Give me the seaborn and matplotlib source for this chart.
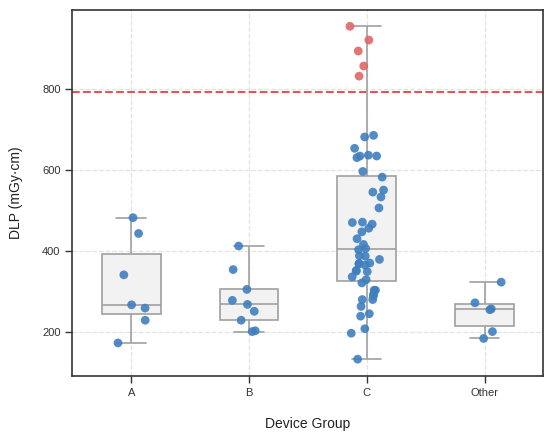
import numpy as np
import pandas as pd
import matplotlib
matplotlib.use("Agg")
import matplotlib.pyplot as plt
import seaborn as sns

# DLP values per device group
dlp_a = [483, 444, 342, 268, 260, 230, 174]
dlp_b = [413, 355, 306, 279, 269, 252, 230, 204, 202]
dlp_c = [955, 921, 894, 857, 832,
         686, 682, 654, 637, 635, 635, 631, 597, 583, 551, 546, 534, 507,
         472, 471, 467, 457, 448, 431, 417, 407, 404, 389, 388, 380, 371,
         370, 369, 366, 353, 351, 350, 337, 330, 322, 304, 304, 294, 290,
         281, 281, 264, 246, 240, 209, 198, 134]
dlp_other = [324, 273, 258, 256, 202, 185]
groups = ["A", "B", "C", "Other"]
drl_threshold = 792

df = pd.concat([
    pd.DataFrame({"group": g, "dlp": v})
    for g, v in zip(groups, [dlp_a, dlp_b, dlp_c, dlp_other])
], ignore_index=True)
df["above"] = df["dlp"] > drl_threshold

sns.set_theme(style="ticks")
plt.rcParams["font.family"] = ["Liberation Sans", "DejaVu Sans"]

fig, ax = plt.subplots(figsize=(5.5, 4.38), dpi=100)
fig.subplots_adjust(left=0.1315, right=0.988, top=0.978, bottom=0.142)

box_col = "#a0a0a0"
sns.boxplot(data=df, x="group", y="dlp", order=groups, width=0.5,
            color="#f2f2f2", linecolor=box_col, linewidth=1.2,
            fliersize=0, ax=ax, zorder=2)

np.random.seed(3)
sns.stripplot(data=df, x="group", y="dlp", order=groups, hue="above",
              palette={False: "#3f7fbf", True: "#e06666"}, jitter=0.15,
              size=6.3, alpha=0.9, linewidth=0, legend=False, ax=ax,
              zorder=3)

ax.axhline(drl_threshold, color="#e05555", linestyle="--", linewidth=1.5,
           zorder=1)

ax.grid(True, linestyle="--", color="#e3e3e3", linewidth=0.9)
ax.set_axisbelow(True)
ax.set_yticks([200, 400, 600, 800])
ax.set_xlabel("Device Group", fontsize=10, labelpad=14, color="#222222")
ax.set_ylabel("DLP (mGy·cm)", fontsize=10, labelpad=14, color="#222222")
ax.tick_params(labelsize=8, length=5, width=1, colors="#333333")
for s in ax.spines.values():
    s.set_color("#333333")
    s.set_linewidth(1.2)

fig.savefig("out.png", dpi=100)
